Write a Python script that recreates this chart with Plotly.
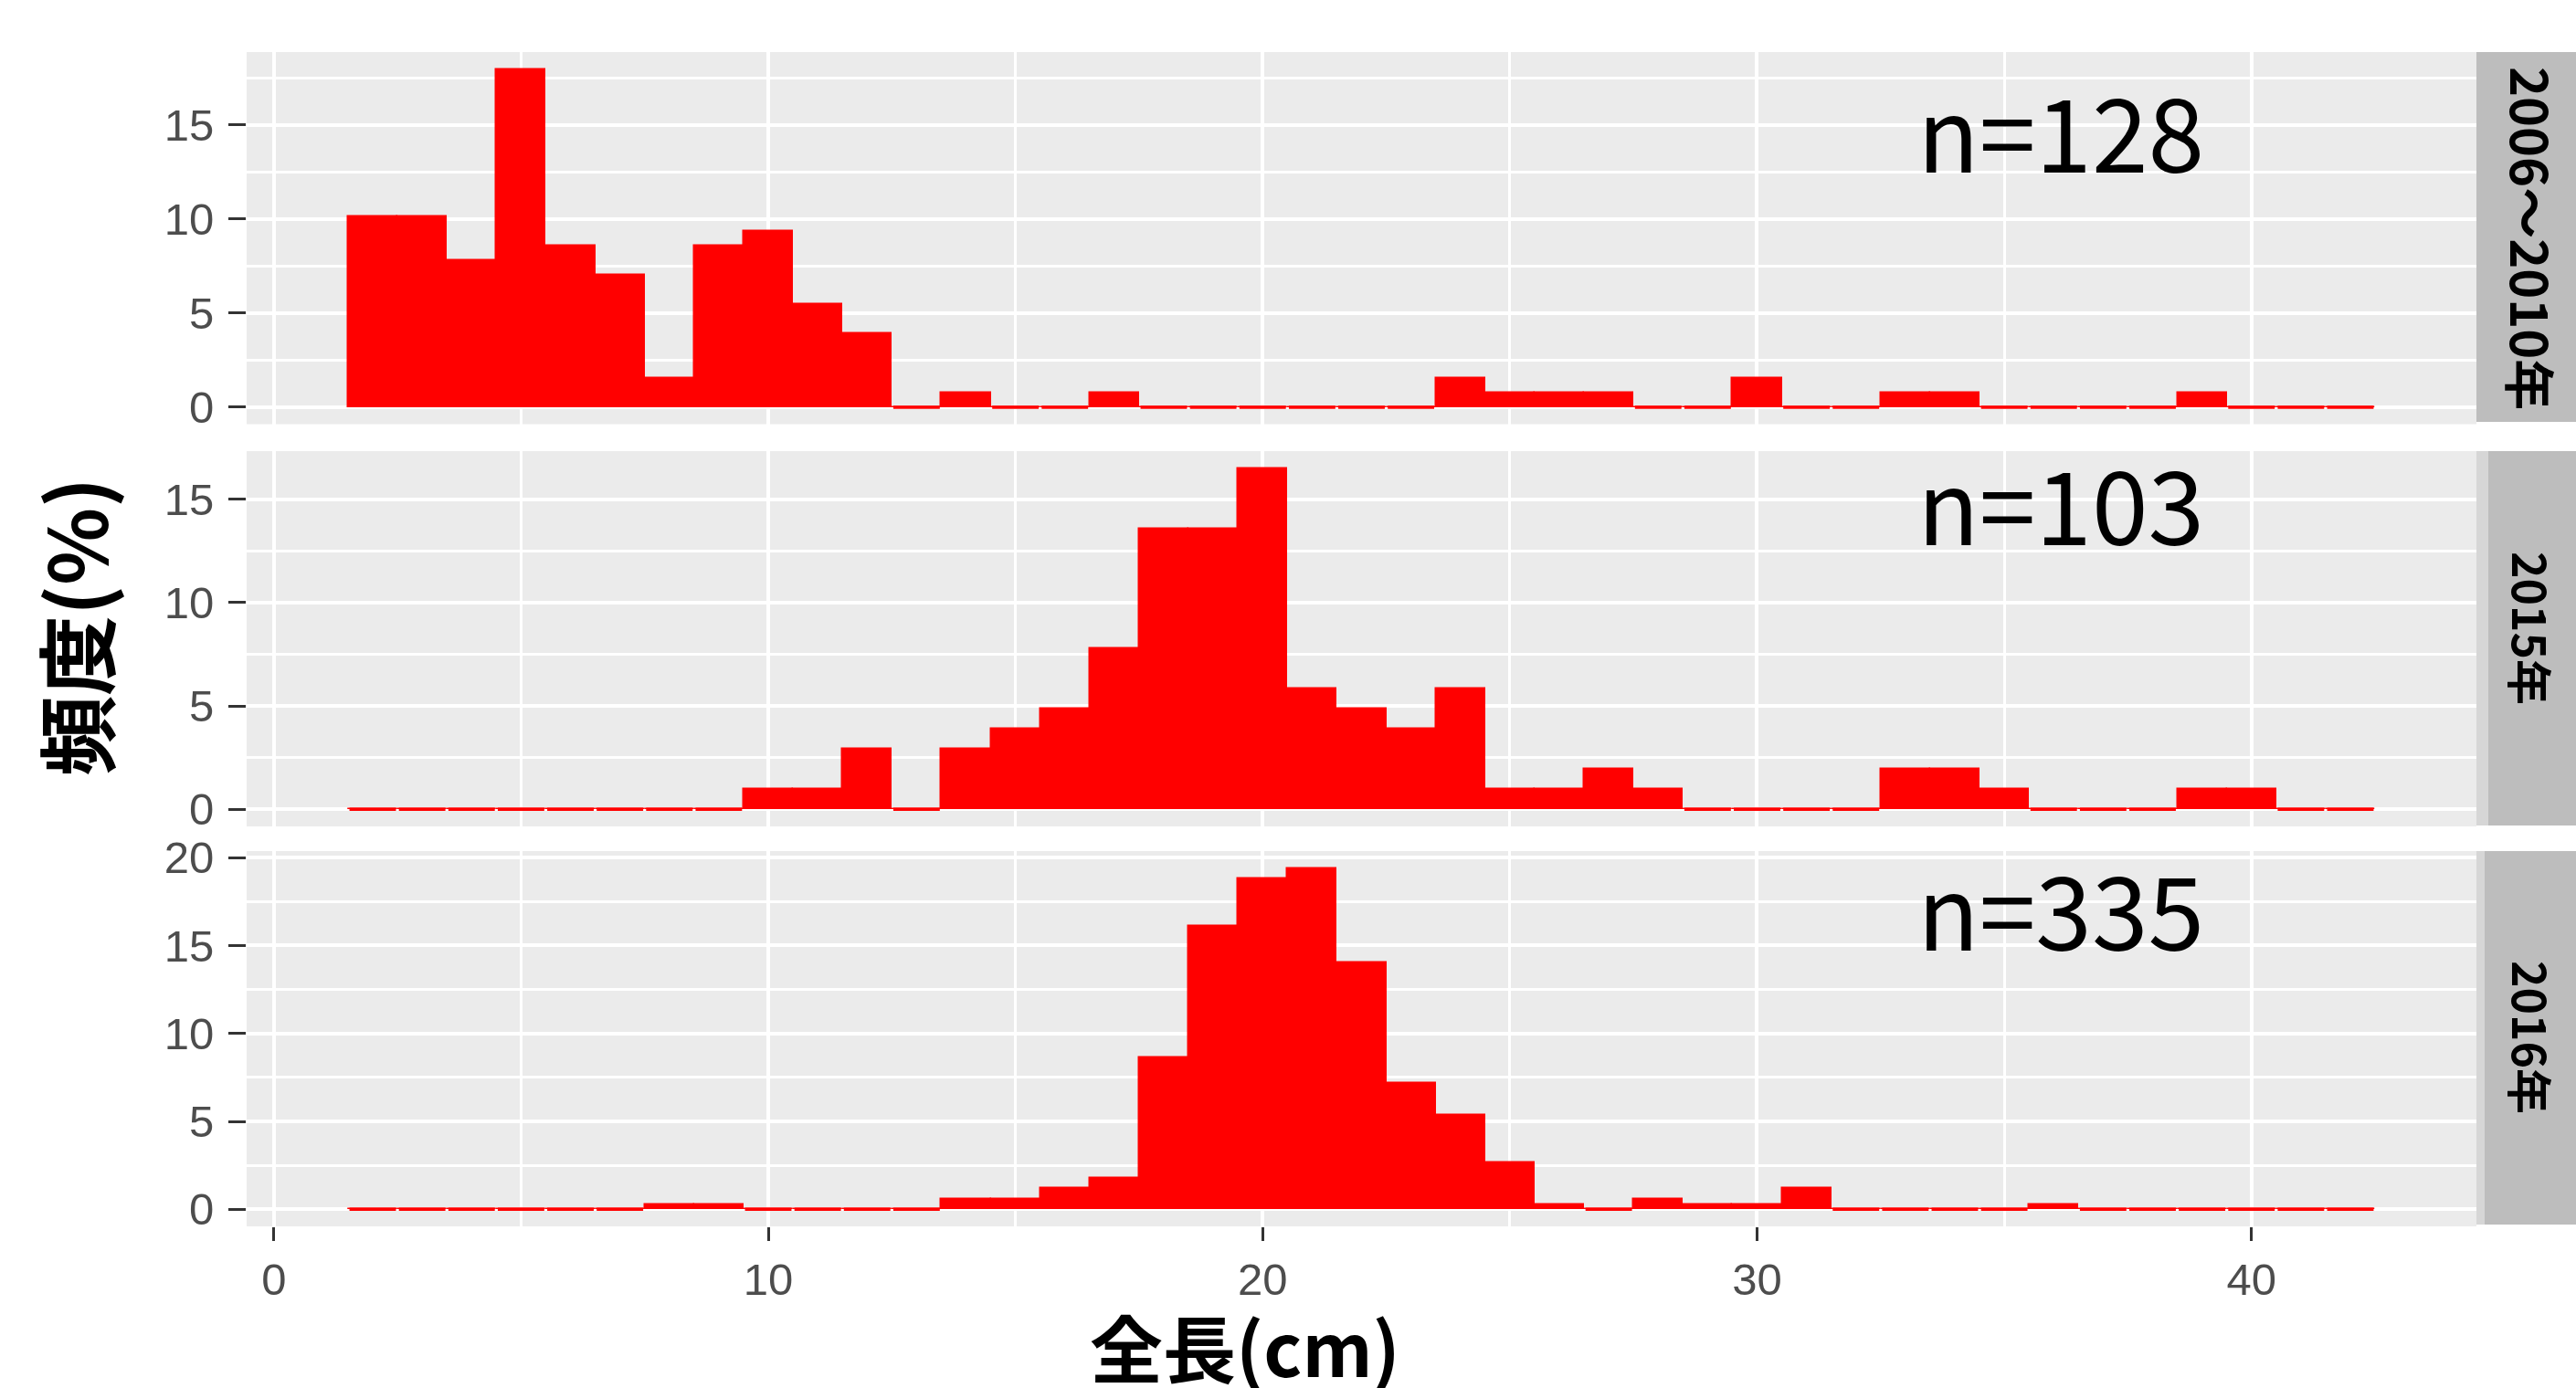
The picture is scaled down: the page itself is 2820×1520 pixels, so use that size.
import plotly.graph_objects as go

# ---------------- data ----------------
bin_centers = list(range(2, 43))          # 1 cm bins, centres 2 .. 42 cm
bin_width = 1.0

panel_labels = ["2006～2010年", "2015年", "2016年"]
n_labels = ["n=128", "n=103", "n=335"]
n_totals = [128, 103, 335]

counts_2006_2010 = [13, 13, 10, 23, 11, 9, 2, 11, 12, 7, 5,
                    0, 1, 0, 0, 1, 0, 0, 0, 0, 0,
                    0, 2, 1, 1, 1, 0, 0, 2, 0, 0,
                    1, 1, 0, 0, 0, 0, 1, 0, 0, 0]
counts_2015 = [0, 0, 0, 0, 0, 0, 0, 0, 1, 1, 3,
               0, 3, 4, 5, 8, 14, 14, 17, 6, 5,
               4, 6, 1, 1, 2, 1, 0, 0, 0, 0,
               2, 2, 1, 0, 0, 0, 1, 1, 0, 0]
counts_2016 = [0, 0, 0, 0, 0, 0, 1, 1, 0, 0, 0,
               0, 2, 2, 4, 6, 29, 54, 63, 65, 47,
               24, 18, 9, 1, 0, 2, 1, 1, 4, 0,
               0, 0, 0, 1, 0, 0, 0, 0, 0, 0]
all_counts = [counts_2006_2010, counts_2015, counts_2016]

x_tick_vals = [0, 10, 20, 30, 40]
y_dtick = 5

x_title = "全長(cm)"
y_title = "頻度(%)"

# ---------------- layout geometry (pixels) ----------------
W, H = 2820, 1520
L, R, T, B = 270, 109, 57, 177
PW = W - L - R
PH = H - T - B


def px_x(p):
    return (p - L) / PW


def px_y(p):
    return (H - B - p) / PH


panel_px = [(57, 464.5), (494, 905), (932, 1343)]   # top, bottom of each panel
strip_text_y = [261, 688, 1136]
n_text_y = [140, 548, 992]

RED = "#FF0000"
fig = go.Figure()

xmin = bin_centers[0] - bin_width / 2
xmax = bin_centers[-1] + bin_width / 2
xpad = 0.05 * (xmax - xmin)

tick_font = dict(family="Liberation Sans", size=49, color="#4D4D4D")

for i, (counts, n) in enumerate(zip(all_counts, n_totals)):
    k = "" if i == 0 else str(i + 1)
    pct = [c / n * 100 for c in counts]
    fig.add_trace(go.Bar(
        x=bin_centers, y=pct, width=bin_width,
        marker=dict(color=RED, line=dict(color=RED, width=1.5)),
        xaxis="x" + k, yaxis="y" + k, showlegend=False, hoverinfo="skip"))
    # empty bins are drawn by ggplot as flat outlines
    zx, zy = [], []
    for c, xc in zip(counts, bin_centers):
        if c == 0:
            zx += [xc - 0.47 * bin_width, xc + 0.47 * bin_width, None]
            zy += [0, 0, None]
    fig.add_trace(go.Scatter(
        x=zx, y=zy, mode="lines", line=dict(color=RED, width=3.6),
        xaxis="x" + k, yaxis="y" + k, showlegend=False, hoverinfo="skip",
        cliponaxis=False))

    m = max(pct)
    top, bot = panel_px[i]
    bottom_panel = (i == 2)
    fig.layout["xaxis" + k] = dict(
        domain=[0, 1], anchor="y" + k, range=[xmin - xpad, xmax + xpad],
        tickvals=x_tick_vals, showticklabels=bottom_panel,
        ticks="outside" if bottom_panel else "", ticklen=15, tickwidth=3,
        tickcolor="#333333", tickfont=tick_font,
        showgrid=True, gridcolor="white", gridwidth=3.5,
        minor=dict(dtick=5, tick0=0, showgrid=True, gridcolor="white", gridwidth=2.5),
        zeroline=False, showline=False, fixedrange=True)
    fig.layout["yaxis" + k] = dict(
        domain=[px_y(bot), px_y(top)], anchor="x" + k,
        range=[-0.05 * m, 1.05 * m], tick0=0, dtick=y_dtick,
        ticks="outside", ticklen=19, tickwidth=3, tickcolor="#333333",
        tickfont=tick_font, ticklabelstandoff=6,
        showgrid=True, gridcolor="white", gridwidth=3.5,
        minor=dict(dtick=y_dtick / 2, tick0=0, showgrid=True, gridcolor="white", gridwidth=2.5),
        zeroline=False, showline=False, fixedrange=True)

    # n= annotation
    fig.add_annotation(
        text=n_labels[i], xref="paper", yref="paper",
        x=px_x(2097), y=px_y(n_text_y[i]), xanchor="left", yanchor="middle",
        showarrow=False,
        font=dict(family="Noto Sans CJK JP", size=111, color="black"))

# strips
strip_shapes = [
    [(2711, 2820, 57, 462, "#BDBDBD")],
    [(2711, 2724, 494, 904, "#D6D6D6"), (2724, 2820, 494, 904, "#BDBDBD")],
    [(2711, 2720, 932, 1341, "#D6D6D6"), (2720, 2820, 932, 1341, "#BDBDBD")],
]
for i, rects in enumerate(strip_shapes):
    for (x0, x1, y0, y1, col) in rects:
        fig.add_shape(type="rect", xref="paper", yref="paper",
                      x0=px_x(x0), x1=px_x(x1), y0=px_y(y1), y1=px_y(y0),
                      fillcolor=col, line=dict(width=0), layer="above")
    fig.add_annotation(
        text="<b>" + panel_labels[i] + "</b>", xref="paper", yref="paper",
        x=px_x(2772), y=px_y(strip_text_y[i]), xanchor="center", yanchor="middle",
        textangle=90, showarrow=False,
        font=dict(family="Noto Sans CJK JP", size=56 if i == 0 else 50, color="black"))

# axis titles
fig.add_annotation(text="<b>" + x_title + "</b>", xref="paper", yref="paper",
                   x=px_x(1363), y=px_y(1473), xanchor="center", yanchor="middle",
                   showarrow=False,
                   font=dict(family="Noto Sans CJK JP", size=80, color="black"))
fig.add_annotation(text="<b>" + y_title + "</b>", xref="paper", yref="paper",
                   x=px_x(80), y=px_y(687), xanchor="center", yanchor="middle",
                   textangle=-90, showarrow=False,
                   font=dict(family="Noto Sans CJK JP", size=88, color="black"))

fig.update_layout(
    width=W, height=H,
    margin=dict(l=L, r=R, t=T, b=B, autoexpand=False),
    paper_bgcolor="white", plot_bgcolor="#EBEBEB",
    bargap=0, barmode="overlay", showlegend=False,
)

fig.write_html("out.html", config={"displayModeBar": False},
               post_script="document.body.style.margin='0px';")
